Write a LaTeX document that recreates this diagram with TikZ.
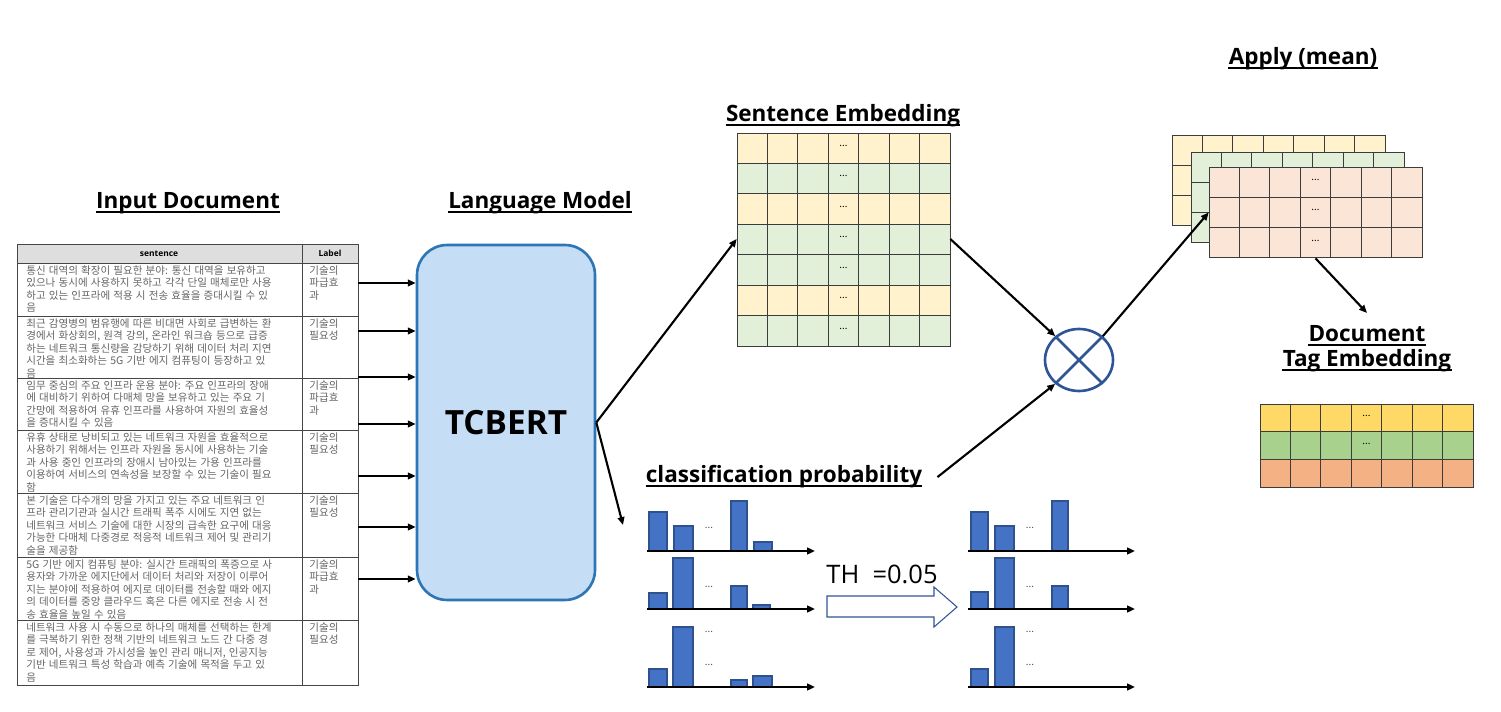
\documentclass[tikz,border=0pt]{standalone}
\usepackage{fontspec}
\setmainfont{Noto Sans CJK KR}
\newfontfamily\hdrfont{Open Sans}
\usetikzlibrary{arrows.meta, positioning, shapes.geometric, calc}
\definecolor{bertfill}{RGB}{197,222,245}
\definecolor{bertline}{RGB}{46,117,182}
\definecolor{cream}{RGB}{255,242,204}
\definecolor{mint}{RGB}{226,240,217}
\definecolor{peach}{RGB}{251,229,214}
\definecolor{gold}{RGB}{255,217,102}
\definecolor{leaf}{RGB}{169,209,142}
\definecolor{tangerine}{RGB}{244,177,131}
\definecolor{gridgray}{RGB}{60,60,60}
\definecolor{barblue}{RGB}{68,114,196}
\definecolor{bardark}{RGB}{47,82,143}
\definecolor{mulblue}{RGB}{47,85,151}
\definecolor{hdrgray}{RGB}{222,222,222}
\definecolor{tblline}{RGB}{70,70,70}
\definecolor{txtgray}{RGB}{100,100,100}
\newcommand\rowfont{\fontsize{6}{7.15}\selectfont\spaceskip 0.3em\relax}
\tikzset{
  hdr/.style={font=\hdrfont\bfseries\fontsize{12.8}{14}\selectfont, anchor=base, inner sep=0pt},
  uline/.style={line width=1.1pt, color=black},
  arrow/.style={-{Triangle[length=4.5pt,width=3.8pt]}, line width=1.2pt, color=black},
  embcell/.style={draw=gridgray, line width=0.5pt},
  celldots/.style={font=\fontsize{5.5}{5.5}\selectfont, inner sep=0pt},
  rowtxt/.style={anchor=north west, align=left, inner sep=0pt, text=txtgray, font=\rowfont},
  tblhdr/.style={font=\hdrfont\bfseries\fontsize{4.8}{5}\selectfont, inner sep=0pt},
  bertbox/.style={rectangle, rounded corners=0.6cm, fill=bertfill, draw=bertline,
    line width=1.5pt, minimum width=3.56cm, minimum height=7.1cm,
    font=\hdrfont\bfseries\fontsize{19}{21}\selectfont},
  probbar/.style={fill=barblue, draw=bardark, line width=0.6pt},
  baseaxis/.style={-{Triangle[length=4.5pt,width=3.8pt]}, line width=1.2pt}
}

\begin{document}
\begin{tikzpicture}[x=0.02cm, y=-0.02cm]
  \useasboundingbox (0,0) rectangle (1501,712);

  % Headers
  \node[hdr] (hIn) at (188,209) {Input Document};
  \node[hdr] (hLM) at (540,209) {Language Model};
  \node[hdr] (hSE) at (843,122) {Sentence Embedding};
  \node[hdr] (hAp) at (1303,65) {Apply (mean)};
  \node[hdr] (hCP) at (784,483) {classification probability};
  \node[hdr] (hDT1) at (1367,342) {Document};
  \node[hdr] (hDT2) at (1367,367) {Tag Embedding};
  \foreach \h in {hIn,hLM,hSE,hAp,hCP,hDT1,hDT2}
    \draw[uline] ([yshift=-1.8pt]\h.base west) -- ([yshift=-1.8pt]\h.base east);

  % Input table
  \fill[hdrgray] (17,244) rectangle (358,263);
  \node[draw=tblline, line width=0.5pt, minimum width=6.82cm, minimum height=8.82cm, inner sep=0pt] (tbl) at (187.5,464.5) {};
  \foreach \y in {263,316,378,430,493,557,620}
    \draw[tblline, line width=0.5pt] (17,\y) -- (358,\y);
  \draw[tblline, line width=0.5pt] (302,244) -- (302,685);
  \node[tblhdr] (hSent) at (159,253.5) {sentence};
  \node[tblhdr] (hLab) at (330,253.5) {Label};

  \node[rowtxt] (r1) at (26,265) {통신 대역의 확장이 필요한 분야: 통신 대역을 보유하고\\있으나 동시에 사용하지 못하고 각각 단일 매체로만 사용\\하고 있는 인프라에 적용 시 전송 효율을 증대시킬 수 있\\음};
  \node[rowtxt] (l1) at (309,265) {기술의\\파급효\\과};
  \node[rowtxt] (r2) at (26,318) {최근 감영병의 범유행에 따른 비대면 사회로 급변하는 환\\경에서 화상회의, 원격 강의, 온라인 워크숍 등으로 급증\\하는 네트워크 통신량을 감당하기 위해 데이터 처리 지연\\시간을 최소화하는 5G 기반 에지 컴퓨팅이 등장하고 있\\음};
  \node[rowtxt] (l2) at (309,318) {기술의\\필요성};
  \node[rowtxt] (r3) at (26,380) {임무 중심의 주요 인프라 운용 분야: 주요 인프라의 장애\\에 대비하기 위하여 다매체 망을 보유하고 있는 주요 기\\간망에 적용하여 유휴 인프라를 사용하여 자원의 효율성\\을 증대시킬 수 있음};
  \node[rowtxt] (l3) at (309,380) {기술의\\파급효\\과};
  \node[rowtxt] (r4) at (26,432) {유휴 상태로 낭비되고 있는 네트워크 자원을 효율적으로\\사용하기 위해서는 인프라 자원을 동시에 사용하는 기술\\과 사용 중인 인프라의 장애시 남아있는 가용 인프라를\\이용하여 서비스의 연속성을 보장할 수 있는 기술이 필요\\함};
  \node[rowtxt] (l4) at (309,432) {기술의\\필요성};
  \node[rowtxt] (r5) at (26,495) {본 기술은 다수개의 망을 가지고 있는 주요 네트워크 인\\프라 관리기관과 실시간 트래픽 폭주 시에도 지연 없는\\네트워크 서비스 기술에 대한 시장의 급속한 요구에 대응\\가능한 다매체 다중경로 적응적 네트워크 제어 및 관리기\\술을 제공함};
  \node[rowtxt] (l5) at (309,495) {기술의\\필요성};
  \node[rowtxt] (r6) at (26,559) {5G 기반 에지 컴퓨팅 분야: 실시간 트래픽의 폭증으로 사\\용자와 가까운 에지단에서 데이터 처리와 저장이 이루어\\지는 분야에 적용하여 에지로 데이터를 전송할 때와 에지\\의 데이터를 중앙 클라우드 혹은 다른 에지로 전송 시 전\\송 효율을 높일 수 있음};
  \node[rowtxt] (l6) at (309,559) {기술의\\파급효\\과};
  \node[rowtxt] (r7) at (26,622) {네트워크 사용 시 수동으로 하나의 매체를 선택하는 한계\\를 극복하기 위한 정책 기반의 네트워크 노드 간 다중 경\\로 제어, 사용성과 가시성을 높인 관리 매니저, 인공지능\\기반 네트워크 특성 학습과 예측 기술에 목적을 두고 있\\음};
  \node[rowtxt] (l7) at (309,622) {기술의\\필요성};

  % Language model
  \node[bertbox] (bert) at (506,422.5) {TCBERT};
  \foreach \y [count=\i] in {283,331,377,424,476,527,579} {
    \coordinate (in\i) at (tbl.east |- 0,\y);
    \draw[arrow] (in\i) -- (in\i -| bert.west);
  }

  % Sentence embedding grid
  \node[minimum width=4.26cm, minimum height=4.26cm, inner sep=0pt] (semb) at (843.5,239) {};
  \foreach \c [count=\r from 0] in {cream,mint,cream,mint,mint,cream,mint} {
    \foreach \k in {0,...,6}
      \draw[embcell, fill=\c] (737+\k*30.43,133+\r*30.43) rectangle ++(30.43,30.43);
    \node[celldots] (sd\r) at (843.5,146+\r*30.43) {...};
  }
  \draw[arrow] (bert.east) -- (semb.west);
  \coordinate (cptip) at (623,525);
  \draw[arrow] (bert.east) -- (cptip);

  % Multiply
  \node[ellipse, draw=mulblue, line width=1.5pt, minimum width=1.36cm, minimum height=1.24cm, inner sep=0pt] (mul) at (1079,360) {};
  \draw[mulblue, line width=1.5pt] (mul.45) -- (mul.225) (mul.135) -- (mul.315);
  \draw[arrow] (semb.east) -- (mul.135);
  \draw[arrow] ([xshift=0.3cm]hCP.east) -- (mul.225);

  % Apply (mean) stack
  \foreach \c/\dx/\dy in {cream/1172/135, mint/1191/152, peach/1209/167}
    \foreach \k in {0,...,6}
      \foreach \r in {0,1,2}
        \draw[embcell, fill=\c] (\dx+\k*30.43,\dy+\r*30.3) rectangle ++(30.43,30.3);
  \node[minimum width=4.26cm, minimum height=1.82cm, inner sep=0pt] (stack) at (1315.5,212.5) {};
  \foreach \r in {0,1,2}
    \node[celldots] (ad\r) at (1315.5,180+\r*30.3) {...};
  \draw[arrow] (mul.45) -- (stack.west);
  \coordinate (tagtip) at (1367,313);
  \draw[arrow] (stack.south) -- (tagtip);

  % Document tag embedding
  \foreach \c [count=\r from 0] in {gold,leaf,tangerine}
    \foreach \k in {0,...,6}
      \draw[embcell, fill=\c] (1260+\k*30.43,404+\r*27.67) rectangle ++(30.43,27.67);
  \foreach \r in {0,1}
    \node[celldots] (td\r) at (1366.5,416+\r*27.67) {...};

  % Probability bars before threshold
  \foreach \ay/\bars in {551/{649/18/512,674/19/526,731/16/501,754/18/542},
                         609/{649/18/593,673/20/558,731/16/586,753/17/605},
                         687/{649/18/669,673/20/627,731/16/680,753/19/676}} {
    \foreach \bx/\bw/\bt in \bars
      \draw[probbar] (\bx,\ay) rectangle (\bx+\bw,\bt);
    \draw[baseaxis] (647,\ay) -- (815,\ay);
  }
  % Probability bars after threshold
  \foreach \ay/\bars in {551/{971/17/512,995/19/526,1052/16/501},
                         609/{971/17/592,995/19/558,1052/16/586},
                         687/{971/17/669,995/19/627}} {
    \foreach \bx/\bw/\bt in \bars
      \draw[probbar] (\bx,\ay) rectangle (\bx+\bw,\bt);
    \draw[baseaxis] (968,\ay) -- (1135,\ay);
  }
  \foreach \dx in {709,1030}
    \foreach \dy in {528,587,632,665}
      \node[celldots, text=black!70] at (\dx,\dy) {...};

  % Threshold arrow
  \draw[draw=mulblue, line width=0.6pt, fill=white] (827,596) -- (934,596) -- (934,587) -- (957,607) -- (934,627) -- (934,617) -- (827,617) -- cycle;
  \node[font=\hdrfont\fontsize{14.5}{16}\selectfont, inner sep=0pt] (th) at (882,574) {TH\ \ =0.05};
\end{tikzpicture}
\end{document}
